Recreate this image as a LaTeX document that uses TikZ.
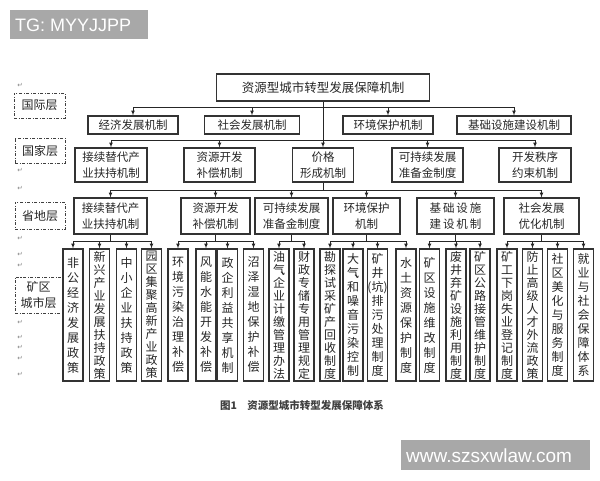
\documentclass[tikz,border=0pt]{standalone}
\usepackage{fontspec}
\newfontfamily\cjk{Noto Sans CJK SC}
\newfontfamily\wmfont{Liberation Sans}
\newfontfamily\symfont{DejaVu Sans}
\usetikzlibrary{arrows}
\begin{document}
\begin{tikzpicture}[x=1pt,y=-1pt]
    \tikzstyle{box}=[draw=black!80, line width=1.1pt, inner sep=1pt, align=center, text=black!85, font=\cjk\fontsize{11.5}{16}\selectfont]
    \tikzstyle{vbox}=[box, minimum width=20, minimum height=132, inner sep=0pt]
    \tikzstyle{lvl}=[draw=black!75, line width=1pt, dash pattern=on 3pt off 1.5pt on 1pt off 1.5pt, align=center, inner sep=1pt, text=black!85, font=\cjk\fontsize{12}{16}\selectfont]
    \tikzstyle{conn}=[black!85, line width=0.7pt]
    \tikzstyle{marrs}=[conn,-latex]
    \tikzstyle{wmark}=[text=white, inner sep=0pt, anchor=west]
    \tikzstyle{ret}=[text=black!50, inner sep=0pt, font=\symfont\fontsize{6.5}{6.5}\selectfont]

    \useasboundingbox (0,0) rectangle (600,480);

    % level labels
    \node[lvl, minimum width=51, minimum height=25] (lv1) at (39.5,105.5) {国际层};
    \node[lvl, minimum width=50, minimum height=25] (lv2) at (40,150.5) {国家层};
    \node[lvl, minimum width=50, minimum height=27] (lv3) at (40,215.5) {省地层};
    \node[lvl, minimum width=47, minimum height=36] (lv4) at (38.5,295) {矿区\\城市层};
    \foreach \y [count=\i] in {85, 170, 188, 238, 254, 265, 322, 337, 347, 358, 374} {
        \node[ret] (r\i) at (20,\y) {↵};
    }

    % top
    \node[box, minimum width=213, minimum height=27, font=\cjk\fontsize{12.5}{15}\selectfont] (top) at (323,87.5) {资源型城市转型发展保障机制};

    % international level
    \foreach \x/\w/\t [count=\i] in {133/90/经济发展机制, 252/95/社会发展机制, 388/90/环境保护机制, 514/114/基础设施建设机制} {
        \node[box, minimum width=\w, minimum height=18] (n\i) at (\x,125) {\t};
    }

    % national level
    \foreach \x/\w/\t [count=\i] in {111/72/{接续替代产\\业扶持机制}, 219.5/71/{资源开发\\补偿机制}, 323/61/{价格\\形成机制}, 427.5/71/{可持续发展\\准备金制度}, 535/72/{开发秩序\\约束机制}} {
        \node[box, minimum width=\w, minimum height=34] (c\i) at (\x,165) {\t};
    }

    % provincial level
    \foreach \x/\w/\t [count=\i] in {110.5/73/{接续替代产\\业扶持机制}, 215.5/69/{资源开发\\补偿机制}, 291.5/73/{可持续发展\\准备金制度}, 366.5/67/{环境保护\\机制}, 455.5/77/{基\,础\,设\,施\\建\,设\,机\,制}, 541.5/75/{社会发展\\优化机制}} {
        \node[box, minimum width=\w, minimum height=36] (p\i) at (\x,216) {\t};
    }

    % mining city level
    \foreach \x/\s/\t [count=\i] in {
        73/15/{非\\公\\经\\济\\发\\展\\政\\策},
        99.5/13/{新\\兴\\产\\业\\发\\展\\扶\\持\\政\\策},
        126.5/15/{中\\小\\企\\业\\扶\\持\\政\\策},
        151.5/13/{园\\区\\集\\聚\\高\\新\\产\\业\\政\\策},
        178/15/{环\\境\\污\\染\\治\\理\\补\\偿},
        206/15/{风\\能\\水\\能\\开\\发\\补\\偿},
        227.5/15/{政\\企\\利\\益\\共\\享\\机\\制},
        253.5/15/{沼\\泽\\湿\\地\\保\\护\\补\\偿},
        279/13/{油\\气\rlap{\kern-5pt 、}\\企\\业\\计\\缴\\管\\理\\办\\法},
        304/13/{财\\政\\专\\储\\专\\用\\管\\理\\规\\定},
        330/13/{勘\\探\\试\\采\\矿\\产\\回\\收\\制\\度},
        353/14/{大\\气\rlap{\kern-5pt 、}\\和\\噪\\音\\污\\染\\控\\制},
        377.5/14/{矿\\井\\(坑)\\排\\污\\处\\理\\制\\度},
        406/15/{水\\土\\资\\源\\保\\护\\制\\度},
        429.5/15/{矿\\区\\设\\施\\维\\改\\制\\度},
        456/13/{废\\井\\弃\\矿\\设\\施\\利\\用\\制\\度},
        480/13/{矿\\区\\公\\路\\接\\管\\维\\护\\制\\度},
        507/13/{矿\\工\\下\\岗\\失\\业\\登\\记\\制\\度},
        532.5/13/{防\\止\\高\\级\\人\\才\\外\\流\\政\\策},
        557.5/14/{社\\区\\美\\化\\与\\服\\务\\制\\度},
        583.5/14/{就\\业\\与\\社\\会\\保\\障\\体\\系}} {
        \node[vbox, font=\cjk\fontsize{12}{\s}\selectfont] (v\i) at (\x,315) {\t};
    }

    % connectors
    \coordinate (bus1) at (0,107);
    \coordinate (bus2) at (0,140);
    \coordinate (bus3) at (0,190);
    \coordinate (bus4) at (0,241);
    \draw[marrs] (top.south) -- (c3.north);
    \draw[conn] (n1 |- bus1) -- (n4 |- bus1);
    \foreach \i in {1,...,4} {
        \draw[marrs] (n\i |- bus1) -- (n\i.north);
    }
    \draw[conn] (c1 |- bus2) -- (c5 |- bus2);
    \foreach \i in {1,2,4,5} {
        \draw[marrs] (c\i |- bus2) -- (c\i.north);
    }
    \draw[conn] (c3.south) -- (c3 |- bus3);
    \draw[conn] (p1 |- bus3) -- (p6 |- bus3);
    \foreach \i in {1,...,6} {
        \draw[marrs] (p\i |- bus3) -- (p\i.north);
    }
    \foreach \g/\a/\b in {1/1/4, 2/5/8, 3/9/10, 4/11/14, 5/15/17, 6/18/21} {
        \draw[conn] (p\g.south) -- (p\g |- bus4);
        \draw[conn] (v\a |- bus4) -- (v\b |- bus4);
        \foreach \j in {\a,...,\b} {
            \draw[marrs] (v\j |- bus4) -- (v\j.north);
        }
    }

    % caption
    \node[text=black!75, font=\cjk\bfseries\fontsize{10.5}{12}\selectfont] (cap) at (302,405) {图1\quad 资源型城市转型发展保障体系};

    % watermarks
    \fill[black!34] (10,10) rectangle (148,39);
    \node[wmark, font=\wmfont\fontsize{18}{18}\selectfont] (wm1) at (15,25) {TG: MYYJJPP};
    \fill[black!34] (401,440) rectangle (590,470);
    \node[wmark, font=\wmfont\fontsize{19}{19}\selectfont] (wm2) at (406,455.5) {www.szsxwlaw.com};
\end{tikzpicture}
\end{document}
